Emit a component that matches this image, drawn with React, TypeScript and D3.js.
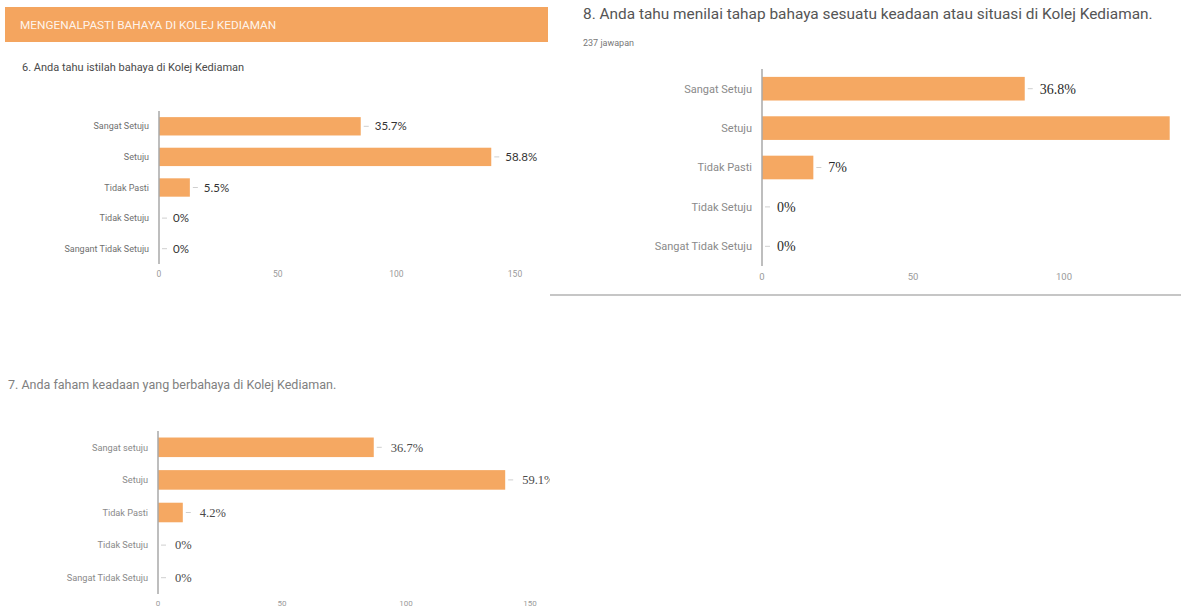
import { useMemo } from 'react';
import * as d3 from 'd3';

// Question 6
const cats6 = ['Sangat Setuju', 'Setuju', 'Tidak Pasti', 'Tidak Setuju', 'Sangant Tidak Setuju'];
const vals6 = [85, 140, 13, 0, 0];
const pct6 = ['35.7%', '58.8%', '5.5%', '0%', '0%'];
const ticks6 = [0, 50, 100, 150];

// Question 8
const cats8 = ['Sangat Setuju', 'Setuju', 'Tidak Pasti', 'Tidak Setuju', 'Sangat Tidak Setuju'];
const vals8 = [87, 135, 17, 0, 0];
const pct8 = ['36.8%', '', '7%', '0%', '0%'];
const ticks8 = [0, 50, 100];

// Question 7
const cats7 = ['Sangat setuju', 'Setuju', 'Tidak Pasti', 'Tidak Setuju', 'Sangat Tidak Setuju'];
const vals7 = [87, 140, 10, 0, 0];
const pct7 = ['36.7%', '59.1%', '4.2%', '0%', '0%'];
const ticks7 = [0, 50, 100, 150];

const BAR = '#F5A862';
const AXIS = '#a8a8a8';

interface PanelProps {
  cats: string[];
  vals: number[];
  pct: string[];
  ticks: number[];
  xMax: number;
  xRange: [number, number];
  yRange: [number, number];
  catSize: number;
  tickSize: number;
  tickY: number;
  valueFont: string;
  valueSize: number;
  valueWeight?: number;
  valueGap: number;
  valueColor: string;
  catColor: string;
}

function BarPanel(p: PanelProps) {
  const x = useMemo(() => d3.scaleLinear().domain([0, p.xMax]).range(p.xRange), [p.xMax, p.xRange]);
  const y = useMemo(
    () => d3.scaleBand().domain(p.cats).range(p.yRange).paddingInner(0.4).paddingOuter(0.2),
    [p.cats, p.yRange]
  );
  const x0 = x(0);

  return (
    <g>
      {/* bars */}
      {p.cats.map((c, i) => (
        p.vals[i] > 0 ? (
          <rect key={c} x={x0} y={y(c)} width={x(p.vals[i]) - x0} height={y.bandwidth()} fill={BAR} />
        ) : null
      ))}

      {/* y axis line */}
      <line x1={x0} x2={x0} y1={p.yRange[0]} y2={p.yRange[1]} stroke={AXIS} strokeWidth={1.5} />

      {/* category labels */}
      {p.cats.map((c) => (
        <text
          key={c}
          x={x0 - 10}
          y={(y(c) ?? 0) + y.bandwidth() / 2}
          dy="0.35em"
          textAnchor="end"
          fontFamily="Roboto, Arial, sans-serif"
          fontSize={p.catSize}
          fill={p.catColor}
        >
          {c}
        </text>
      ))}

      {/* value labels with small leader */}
      {p.cats.map((c, i) => {
        if (!p.pct[i]) return null;
        const end = x(p.vals[i]);
        const cy = (y(c) ?? 0) + y.bandwidth() / 2;
        return (
          <g key={c}>
            <line x1={end + 3} x2={end + 8} y1={cy} y2={cy} stroke="#cfcfcf" strokeWidth={1} />
            <text
              x={end + p.valueGap}
              y={cy}
              dy="0.35em"
              fontFamily={p.valueFont}
              fontSize={p.valueSize}
              fontWeight={p.valueWeight ?? 400}
              fill={p.valueColor}
            >
              {p.pct[i]}
            </text>
          </g>
        );
      })}

      {/* x tick labels */}
      {p.ticks.map((t) => (
        <text
          key={t}
          x={x(t)}
          y={p.tickY}
          dy="0.35em"
          textAnchor="middle"
          fontFamily="Roboto, Arial, sans-serif"
          fontSize={p.tickSize}
          fill="#9a9a9a"
        >
          {t}
        </text>
      ))}
    </g>
  );
}

export default function App() {
  return (
    <svg
      width={1181}
      height={613}
      viewBox="0 0 1181 613"
      style={{ position: 'absolute', left: 0, top: 0, background: '#fff' }}
    >
      <defs>
        <clipPath id="clipLeftBottom">
          <rect x={0} y={300} width={550} height={313} />
        </clipPath>
        <clipPath id="clipRightTop">
          <rect x={550} y={0} width={631} height={296} />
        </clipPath>
      </defs>
      <rect x={0} y={0} width={1181} height={613} fill="#fff" />

      {/* section header */}
      <rect x={5} y={7} width={543} height={35} fill="#F4A55F" />
      <text x={20} y={24.5} dy="0.35em" fontFamily="Roboto, Arial, sans-serif" fontSize={11.8} fill="#fff" fillOpacity={0.9}>
        MENGENALPASTI BAHAYA DI KOLEJ KEDIAMAN
      </text>

      {/* question 6 */}
      <text x={22} y={67} dy="0.35em" fontFamily="Roboto, Arial, sans-serif" fontSize={11} fill="#4a4a4a">
        6. Anda tahu istilah bahaya di Kolej Kediaman
      </text>
      <BarPanel
        cats={cats6}
        vals={vals6}
        pct={pct6}
        ticks={ticks6}
        xMax={150}
        xRange={[159, 515]}
        yRange={[111, 264]}
        catSize={9}
        tickSize={8.5}
        tickY={274}
        valueFont="Lato, 'Open Sans', sans-serif"
        valueSize={11.5}
        valueGap={14}
        valueColor="#333"
        catColor="#6f6f6f"
      />

      {/* question 8 */}
      <g clipPath="url(#clipRightTop)">
        <text x={583} y={14} dy="0.35em" fontFamily="Roboto, Arial, sans-serif" fontSize={15.4} fill="#555">
          8. Anda tahu menilai tahap bahaya sesuatu keadaan atau situasi di Kolej Kediaman.
        </text>
        <text x={583} y={43} dy="0.35em" fontFamily="Roboto, Arial, sans-serif" fontSize={9} fill="#777">
          237 jawapan
        </text>
        <BarPanel
          cats={cats8}
          vals={vals8}
          pct={pct8}
          ticks={ticks8}
          xMax={100}
          xRange={[762, 1064]}
          yRange={[69, 266]}
          catSize={11}
          tickSize={9.5}
          tickY={277}
          valueFont="'Liberation Serif', 'DejaVu Serif', serif"
          valueSize={14}
          valueGap={15}
          valueColor="#2a2a2a"
          catColor="#8a8a8a"
        />
      </g>
      <line x1={550} x2={1181} y1={295} y2={295} stroke="#c6c6c6" strokeWidth={2} />

      {/* question 7 */}
      <g clipPath="url(#clipLeftBottom)">
        <text x={8} y={385} dy="0.35em" fontFamily="Roboto, Arial, sans-serif" fontSize={12.5} fill="#808080">
          7. Anda faham keadaan yang berbahaya di Kolej Kediaman.
        </text>
        <BarPanel
          cats={cats7}
          vals={vals7}
          pct={pct7}
          ticks={ticks7}
          xMax={150}
          xRange={[158, 530]}
          yRange={[431, 594]}
          catSize={9.2}
          tickSize={8}
          tickY={603}
          valueFont="'Liberation Serif', 'DejaVu Serif', serif"
          valueSize={12.5}
          valueGap={17}
          valueColor="#4a4a4a"
          catColor="#8a8a8a"
        />
      </g>
    </svg>
  );
}
